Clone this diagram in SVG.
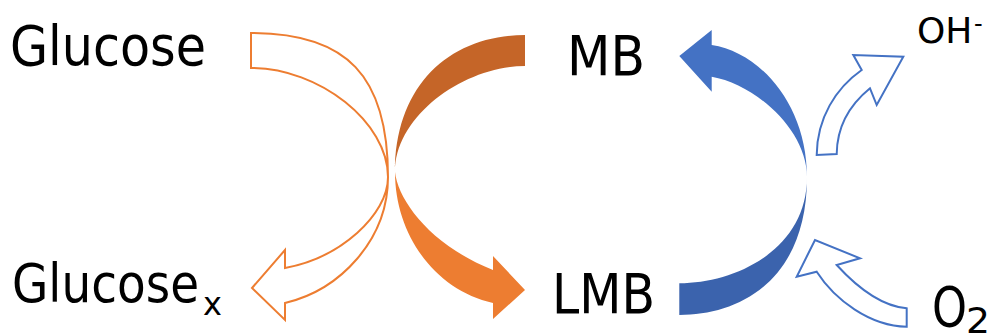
<svg xmlns="http://www.w3.org/2000/svg" width="996" height="336" viewBox="0 0 996 336">
  <style>
    .lbl { font-family: "DejaVu Sans", Verdana, sans-serif; fill: #000; }
    .open-orange { fill: #fff; stroke: #ED7D31; stroke-width: 2; stroke-linejoin: miter; }
    .open-blue { fill: #fff; stroke: #4472C4; stroke-width: 2; stroke-linejoin: miter; }
    .orange-back { fill: #C56528; }
    .orange-front { fill: #ED7D31; }
    .blue-front { fill: #4472C4; }
    .blue-back { fill: #3B63AD; }
  </style>

  <rect width="996" height="336" fill="#fff"/>

  <!-- species labels -->
  <g id="node-glucose">
    <text class="lbl" x="10" y="65" font-size="56" textLength="196" lengthAdjust="spacingAndGlyphs">Glucose</text>
  </g>
  <g id="node-glucose-x">
    <text class="lbl" x="12" y="302" font-size="53" textLength="187" lengthAdjust="spacingAndGlyphs">Glucose</text>
    <text class="lbl" x="203" y="315" font-size="32">x</text>
  </g>
  <g id="node-mb">
    <text class="lbl" x="567" y="75" font-size="55" textLength="78" lengthAdjust="spacingAndGlyphs">MB</text>
  </g>
  <g id="node-lmb">
    <text class="lbl" x="552" y="313" font-size="55" textLength="103" lengthAdjust="spacingAndGlyphs">LMB</text>
  </g>
  <g id="node-oh">
    <text class="lbl" x="917" y="43" font-size="36">OH</text>
    <text class="lbl" x="974" y="32" font-size="24">-</text>
  </g>
  <g id="node-o2">
    <text class="lbl" x="932" y="326" font-size="55" textLength="35" lengthAdjust="spacingAndGlyphs">O</text>
    <text class="lbl" x="966" y="333" font-size="35" textLength="24" lengthAdjust="spacingAndGlyphs">2</text>
  </g>

  <g id="connectors">
    <!-- Glucose to Glucose_x: outlined curved arrow -->
    <path class="open-orange" d="M251,33 C347,33 388,76 388,177 C388,240 340,290 285,303 L285,320 L252,288 L285,250 L285,268 C340,258 388,215 388,177 C388,122.5 319.5,68 251,68 Z"/>

    <!-- MB to LMB: solid curved arrow, back part darker -->
    <path class="orange-back" d="M525,35 C450,35 395,85 395,172 C395,115 465,66 525,66 Z"/>
    <path class="orange-front" d="M395,172 C395,235 435,290 493,303 L493,319 L525,290 L493,256 L493,270 C430,245 398,200 395,172 Z"/>

    <!-- LMB back to MB -->
    <path class="blue-back" d="M807,177 C807,280 740,315 679.3,315 L679.3,283.3 C735,283.3 807,250 807,177 Z"/>
    <path class="blue-front" d="M711.7,45 C760,52 807,105 807,177 C807,130 755,84 711.7,76.7 L711.7,91.7 L679.3,56 L711.7,30 Z"/>

    <!-- O2 in, OH- out -->
    <path class="open-blue" d="M816.7,155 C817,118 836,88 861.7,70 L853.3,55 L903.3,56.7 L876.7,105 L870,88.3 C852,103 837,125 836.7,154 Z"/>
    <path class="open-blue" d="M906.7,308.3 L906.7,326.7 C870,326 835,300 816.7,271.7 L796.7,276.7 L815,240 L860,258.3 L836.7,265 C855,285 880,306 906.7,308.3 Z"/>
  </g>
</svg>
